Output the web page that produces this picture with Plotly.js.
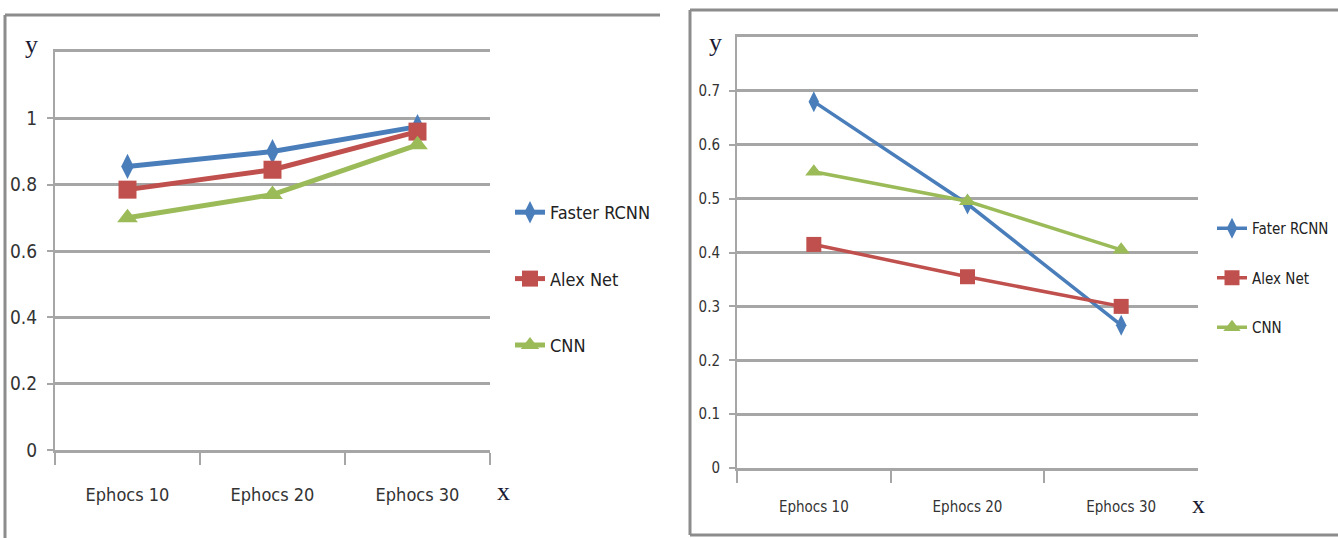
<!DOCTYPE html>
<html>
<head>
<meta charset="utf-8">
<script src="https://cdn.plot.ly/plotly-3.0.1.min.js"></script>
<style>html,body{margin:0;padding:0;background:#fff;}#chart{width:1338px;height:538px;}</style>
</head>
<body>
<div id="chart"></div>
<script>
// Shared categories
const categories = ["Ephocs 10", "Ephocs 20", "Ephocs 30"];

// Left chart series
const leftNames = ["Faster RCNN", "Alex Net", "CNN"];
const leftFasterRCNN = [0.855, 0.90, 0.975];
const leftAlexNet = [0.785, 0.845, 0.96];
const leftCNN = [0.70, 0.77, 0.92];
const leftTickVals = [0, 0.2, 0.4, 0.6, 0.8, 1];
const leftTickText = ["0", "0.2", "0.4", "0.6", "0.8", "1"];

// Right chart series
const rightNames = ["Fater RCNN", "Alex Net", "CNN"];
const rightFaterRCNN = [0.68, 0.49, 0.265];
const rightAlexNet = [0.415, 0.355, 0.30];
const rightCNN = [0.55, 0.495, 0.405];
const rightTickVals = [0, 0.1, 0.2, 0.3, 0.4, 0.5, 0.6, 0.7];
const rightTickText = ["0", "0.1", "0.2", "0.3", "0.4", "0.5", "0.6", "0.7"];

const colors = ["#4a7ebb", "#c0504d", "#9bbb59"];
const symbols = ["diamond-tall", "square", "triangle-up"];
const FONT = "'DejaVu Sans Condensed', 'Liberation Sans Narrow', 'Arial Narrow', 'Liberation Sans', sans-serif";
const SERIF = "'Liberation Serif', 'DejaVu Serif', serif";

function mk(name, y, i, xa, ya, legend, lw, ms) {
  return {
    type: "scatter", mode: "lines+markers", name: name,
    x: categories, y: y, xaxis: xa, yaxis: ya, legend: legend,
    legendgroup: legend + name,
    line: {color: colors[i], width: lw},
    marker: {color: colors[i], symbol: symbols[i], size: ms},
    hoverinfo: "skip"
  };
}

const data = [
  mk(leftNames[0], leftFasterRCNN, 0, "x", "y", "legend", 5, 18),
  mk(leftNames[1], leftAlexNet, 1, "x", "y", "legend", 5, 18),
  mk(leftNames[2], leftCNN, 2, "x", "y", "legend", 5, 18),
  mk(rightNames[0], rightFaterRCNN, 0, "x2", "y2", "legend2", 3.5, 15),
  mk(rightNames[1], rightAlexNet, 1, "x2", "y2", "legend2", 3.5, 15),
  mk(rightNames[2], rightCNN, 2, "x2", "y2", "legend2", 3.5, 15)
];

const grid = "#a6a6a6";

function xax(domain, fs, standoff) {
  return {
    domain: domain, type: "category", range: [-0.5, 2.5],
    showgrid: false, zeroline: false,
    showline: true, mirror: true, linecolor: grid, linewidth: 3,
    ticks: "outside", tickson: "boundaries", ticklen: 12, tickwidth: 2, tickcolor: grid,
    ticklabelstandoff: standoff,
    tickfont: {family: FONT, size: fs, color: "#333"},
    fixedrange: true
  };
}
function yax(domain, range, tv, tt, fs, anchor) {
  return {
    domain: domain, range: range, anchor: anchor,
    tickmode: "array", tickvals: tv, ticktext: tt,
    showgrid: true, gridcolor: grid, gridwidth: 3,
    zeroline: false, showline: true, linecolor: grid, linewidth: 2,
    ticks: "outside", ticklen: 6, tickwidth: 2, tickcolor: grid,
    ticklabelstandoff: 6,
    tickfont: {family: FONT, size: fs, color: "#333"},
    fixedrange: true
  };
}

function lbl(t, x, y) {
  return {text: t, xref: "paper", yref: "paper", x: x/1338, y: 1 - y/538,
    xanchor: "center", yanchor: "middle", showarrow: false,
    font: {family: SERIF, size: 26, color: "#1a1a33"}};
}

const layout = {
  width: 1338, height: 538,
  margin: {l: 0, r: 0, t: 0, b: 0},
  paper_bgcolor: "#fff", plot_bgcolor: "#fff",
  showlegend: true,
  xaxis: Object.assign(xax([55/1338, 490/1338], 18, 26), {anchor: "y"}),
  yaxis: yax([1 - 450/538, 1 - 52/538], [0, 1.2], leftTickVals, leftTickText, 19, "x"),
  xaxis2: Object.assign(xax([737/1338, 1198/1338], 15, 23), {anchor: "y2"}),
  yaxis2: yax([1 - 468/538, 1 - 37/538], [0, 0.8], rightTickVals, rightTickText, 15, "x2"),
  legend: {
    x: 510/1338, y: 1 - 194/538, xanchor: "left", yanchor: "top",
    font: {family: FONT, size: 18, color: "#222"},
    tracegroupgap: 40, bgcolor: "rgba(0,0,0,0)"
  },
  legend2: {
    x: 1212/1338, y: 1 - 212/538, xanchor: "left", yanchor: "top",
    font: {family: FONT, size: 15, color: "#222"},
    tracegroupgap: 27, bgcolor: "rgba(0,0,0,0)"
  },
  annotations: [
    lbl("y", 31, 44), lbl("x", 503, 492),
    lbl("y", 716, 42), lbl("x", 1198, 504)
  ],
  shapes: [
    {type: "line", xref: "paper", yref: "paper", x0: 5/1338, x1: 660/1338, y0: 1 - 15/538, y1: 1 - 15/538, line: {color: "#8c8c8c", width: 3}},
    {type: "line", xref: "paper", yref: "paper", x0: 5/1338, x1: 5/1338, y0: 1 - 15/538, y1: 0, line: {color: "#8c8c8c", width: 3}},
    {type: "line", xref: "paper", yref: "paper", x0: 690/1338, x1: 1338/1338, y0: 1 - 10/538, y1: 1 - 10/538, line: {color: "#8c8c8c", width: 3}},
    {type: "line", xref: "paper", yref: "paper", x0: 690/1338, x1: 690/1338, y0: 1 - 10/538, y1: 1 - 535/538, line: {color: "#8c8c8c", width: 3}},
    {type: "line", xref: "paper", yref: "paper", x0: 690/1338, x1: 1338/1338, y0: 1 - 535/538, y1: 1 - 535/538, line: {color: "#8c8c8c", width: 3}}
  ]
};

Plotly.newPlot("chart", data, layout, {displayModeBar: false, staticPlot: true});
</script>
</body>
</html>
